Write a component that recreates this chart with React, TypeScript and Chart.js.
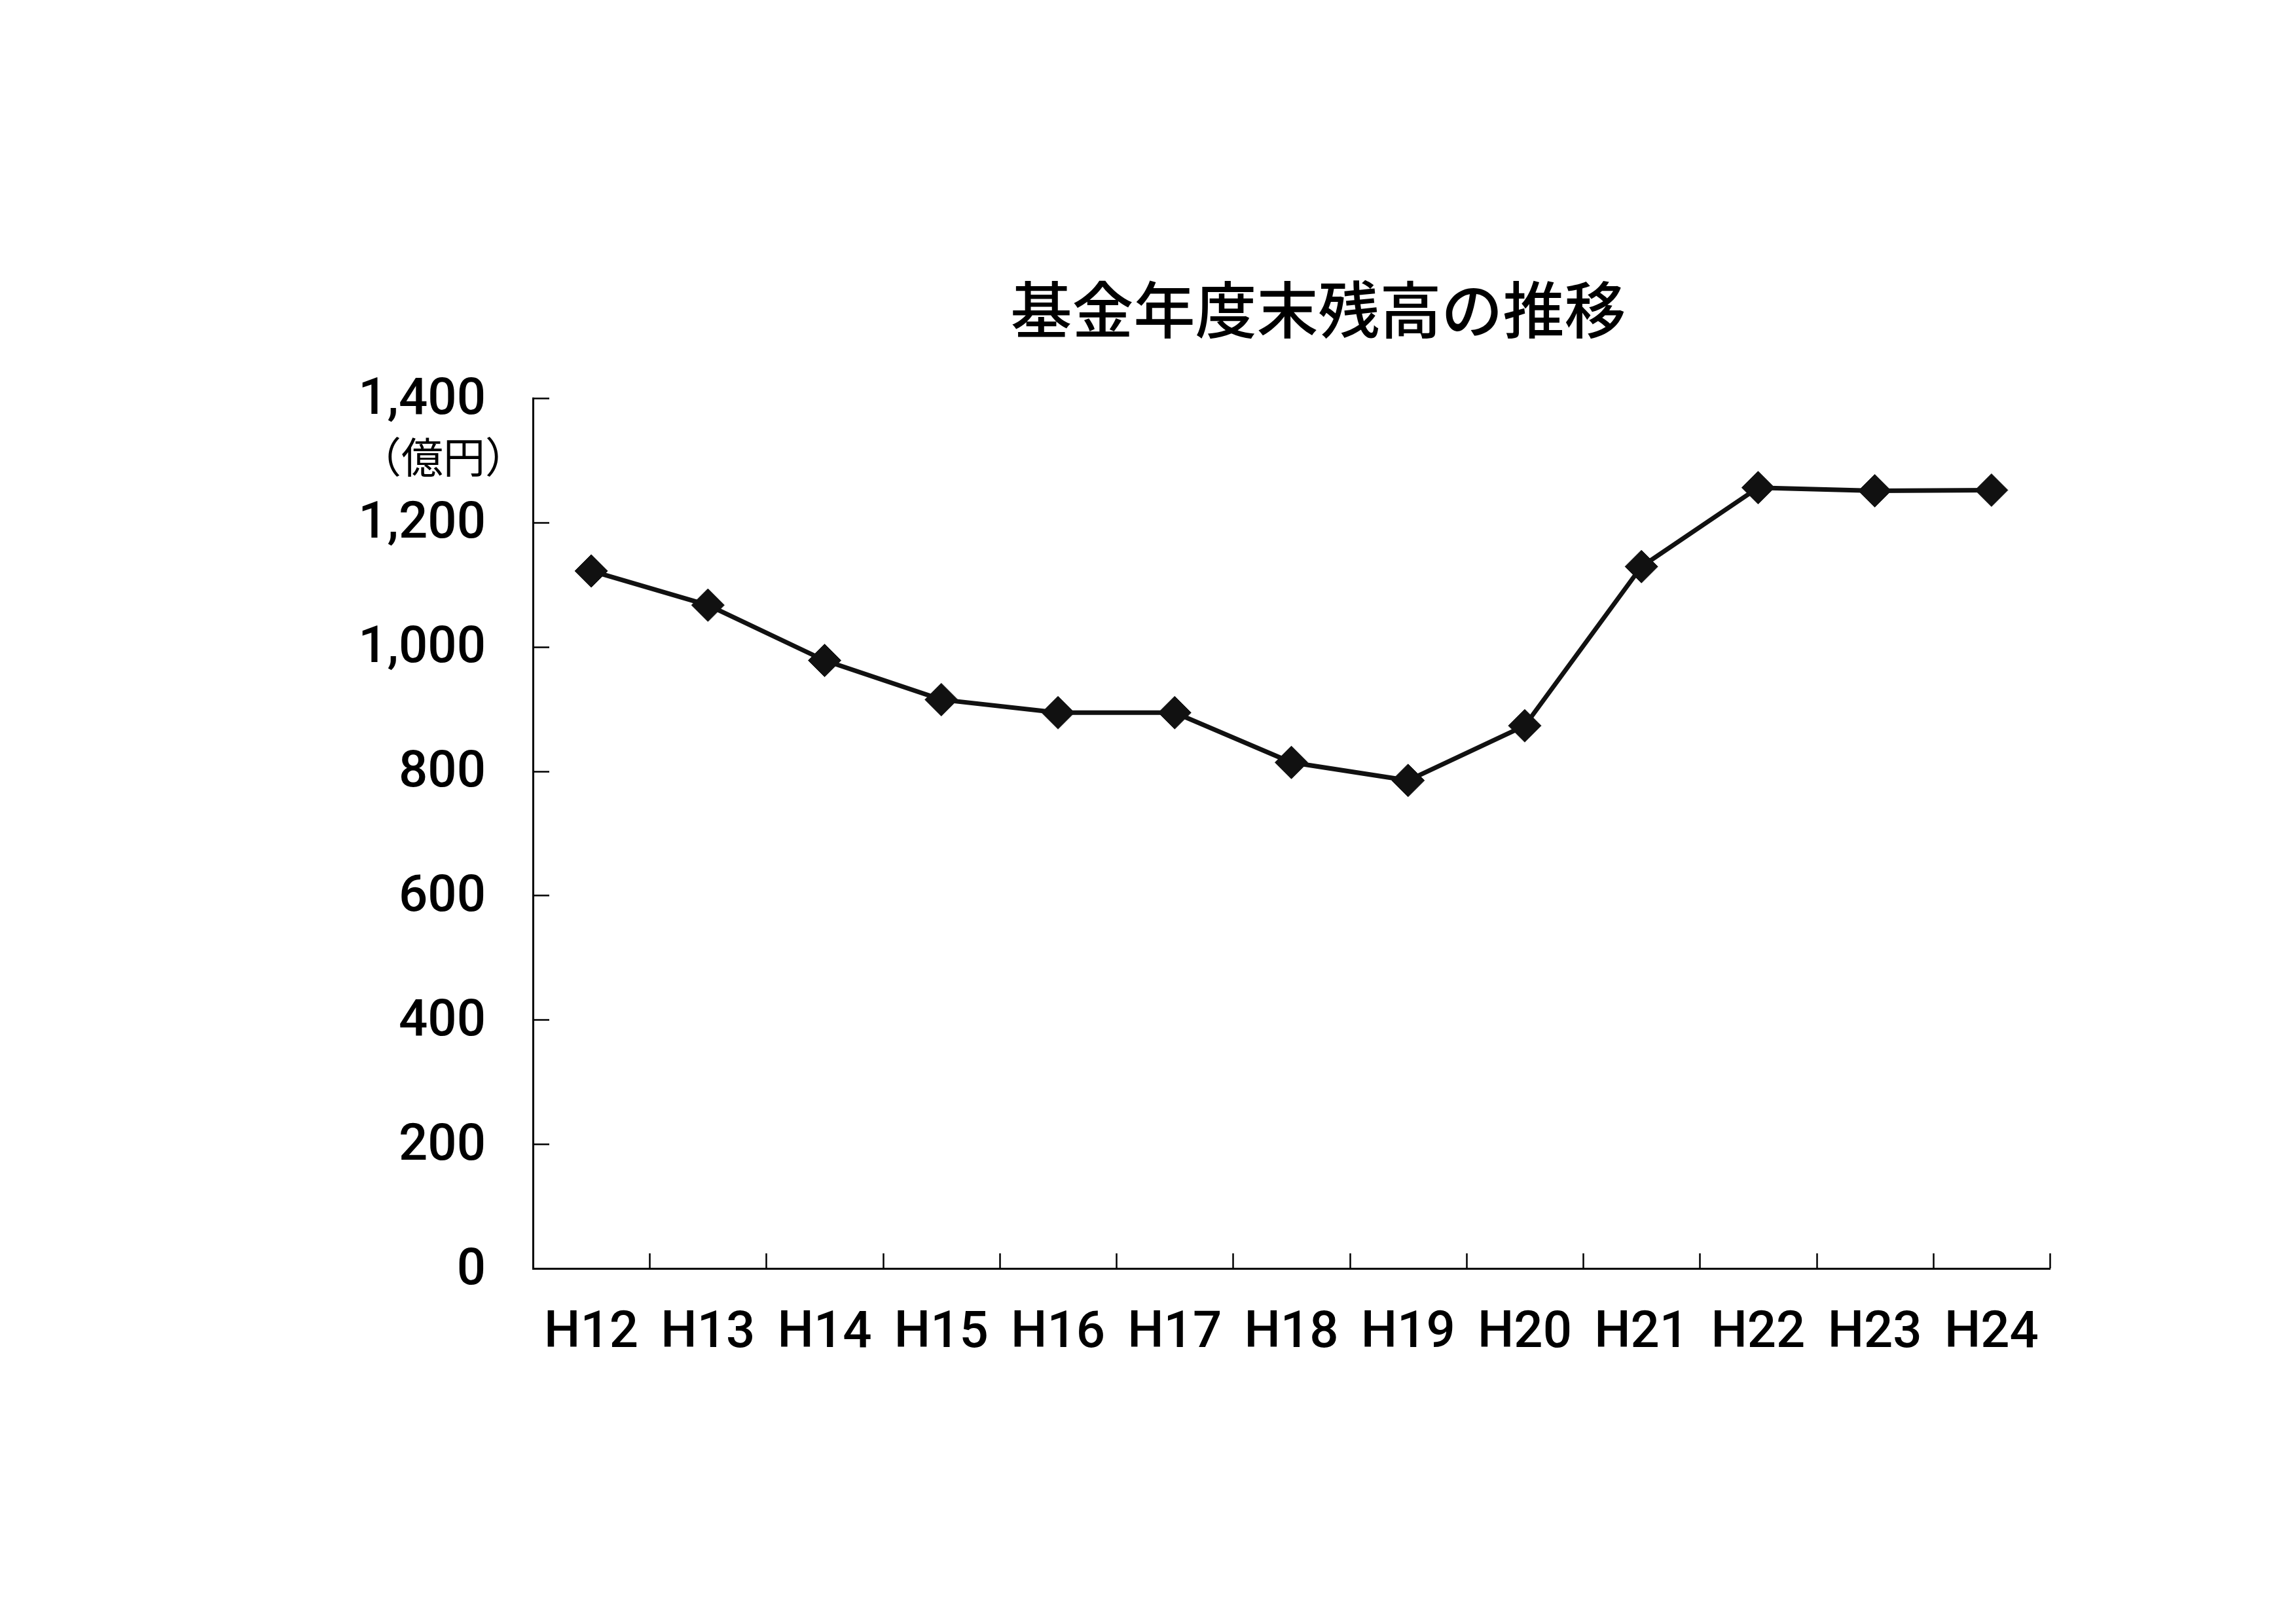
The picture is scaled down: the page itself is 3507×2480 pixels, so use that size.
import { useEffect, useRef } from "react";
import { Chart, registerables } from "chart.js";

Chart.register(...registerables);

const TITLE = "基金年度末残高の推移";
const UNIT_LABEL = "（億円）";
const categories = ["H12", "H13", "H14", "H15", "H16", "H17", "H18", "H19", "H20", "H21", "H22", "H23", "H24"];
const balances = [1122, 1067, 978, 915, 894, 894, 814, 785, 873, 1129, 1256, 1251, 1252];
const yMin = 0;
const yMax = 1400;
const yStep = 200;

const W = 3507;
const H = 2480;

const decorPlugin = {
  id: "decor",
  afterDraw(chart: any) {
    const { ctx, chartArea, scales } = chart;
    const x = scales.x;
    const y = scales.y;
    ctx.save();
    ctx.strokeStyle = "#000";
    ctx.lineWidth = 2.5;
    // inner ticks on y axis
    for (let v = yMin; v <= yMax; v += yStep) {
      const py = Math.round(y.getPixelForValue(v)) + 0.5;
      ctx.beginPath();
      ctx.moveTo(chartArea.left, py);
      ctx.lineTo(chartArea.left + 25, py);
      ctx.stroke();
    }
    // inner ticks on x axis at category boundaries
    const n = categories.length;
    const bounds: number[] = [];
    for (let i = 1; i < n; i++) {
      bounds.push((x.getPixelForValue(i - 1) + x.getPixelForValue(i)) / 2);
    }
    bounds.push(x.right);
    for (const bx of bounds) {
      const px = Math.round(bx) + 0.5;
      ctx.beginPath();
      ctx.moveTo(px, chartArea.bottom);
      ctx.lineTo(px, chartArea.bottom - 23);
      ctx.stroke();
    }
    // title
    ctx.fillStyle = "#000";
    ctx.textAlign = "center";
    ctx.textBaseline = "middle";
    ctx.font = '500 94px "Noto Sans CJK JP"';
    ctx.fillText(TITLE, (chartArea.left + chartArea.right) / 2 + 41, 473);
    // unit label
    ctx.font = '64px "Noto Sans CJK JP"';
    ctx.fillText(UNIT_LABEL, 677, 698);
    ctx.restore();
  },
};

export default function App() {
  const ref = useRef<HTMLCanvasElement | null>(null);

  useEffect(() => {
    if (!ref.current) return;
    const chart = new Chart(ref.current, {
      type: "line",
      data: {
        labels: categories,
        datasets: [
          {
            data: balances,
            borderColor: "#111",
            borderWidth: 7,
            backgroundColor: "#111",
            pointStyle: "rectRot",
            pointRadius: 25,
            pointHoverRadius: 25,
            pointBackgroundColor: "#111",
            pointBorderColor: "#111",
            pointBorderWidth: 1,
            tension: 0,
            fill: false,
          },
        ],
      },
      options: {
        responsive: false,
        animation: false,
        devicePixelRatio: 1,
        layout: { padding: { left: 0, right: 376, top: 608, bottom: 393 } },
        plugins: {
          legend: { display: false },
          title: { display: false },
          tooltip: { enabled: false },
        },
        scales: {
          x: {
            type: "category",
            offset: true,
            grid: { display: true, drawOnChartArea: false, drawTicks: false, offset: true },
            border: { display: true, color: "#000", width: 3 },
            ticks: {
              color: "#000",
              padding: 54,
              maxRotation: 0,
              autoSkip: false,
              font: { family: "Roboto, 'Liberation Sans', sans-serif", size: 78, weight: "500" },
            },
            afterFit: (scale: any) => {
              scale.height = 150;
            },
          },
          y: {
            min: yMin,
            max: yMax,
            grid: { display: true, drawOnChartArea: false, drawTicks: false },
            border: { display: true, color: "#000", width: 3 },
            ticks: {
              stepSize: yStep,
              color: "#000",
              padding: 72,
              labelOffset: 4,
              font: { family: "Roboto, 'Liberation Sans', sans-serif", size: 78, weight: "500" },
              callback: (v: any) => Number(v).toLocaleString("en-US"),
            },
            afterFit: (scale: any) => {
              scale.width = 814;
            },
          },
        },
      },
      plugins: [decorPlugin],
    });
    return () => chart.destroy();
  }, []);

  return (
    <div style={{ position: "absolute", left: 0, top: 0, width: W, height: H, background: "#fff" }}>
      <canvas ref={ref} width={W} height={H} style={{ width: W, height: H, display: "block" }} />
    </div>
  );
}
